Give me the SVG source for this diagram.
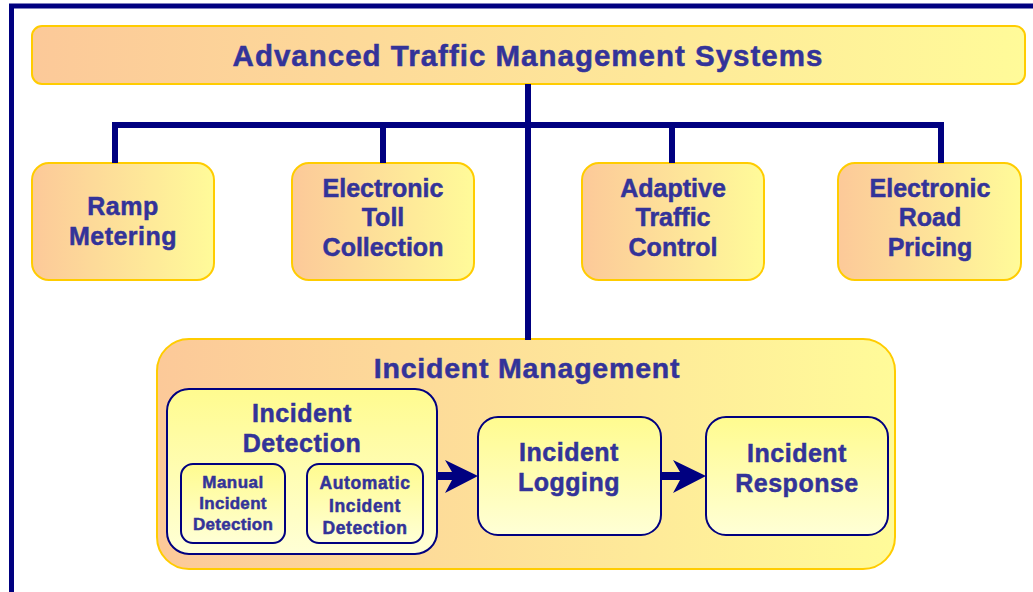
<svg xmlns="http://www.w3.org/2000/svg" width="1033" height="592" viewBox="0 0 1033 592">
<defs>
<linearGradient id="gh" x1="0" y1="0" x2="1" y2="0">
<stop offset="0" stop-color="#FCC999"/>
<stop offset="1" stop-color="#FFFB99"/>
</linearGradient>
<linearGradient id="gv" x1="0" y1="0" x2="0" y2="1">
<stop offset="0" stop-color="#FFFB8F"/>
<stop offset="1" stop-color="#FFFFD6"/>
</linearGradient>
<style>
.t{font-family:"Liberation Sans",Arial,sans-serif;font-weight:bold;fill:#333399;stroke:#333399;stroke-width:0.5;text-anchor:middle}
.o{fill:url(#gh);stroke:#FFCC00;stroke-width:2}
.i{fill:url(#gv);stroke:#000080;stroke-width:2}
.ln{fill:none;stroke:#000080;stroke-width:6}
.ar{fill:#000080}
</style>
</defs>
<rect x="0" y="0" width="1033" height="592" fill="#fff"/>
<rect x="11.5" y="6" width="1040" height="600" fill="none" stroke="#000080" stroke-width="5"/>
<g id="title">
<rect class="o" x="32" y="26" width="993" height="58" rx="10"/>
<text class="t" x="528" y="66" font-size="29.5" letter-spacing="1">Advanced Traffic Management Systems</text>
</g>
<g id="ramp">
<rect class="o" x="32" y="163" width="182" height="117" rx="17"/>
<text class="t" x="123" y="215" font-size="25" letter-spacing="0.5">Ramp</text>
<text class="t" x="123" y="245" font-size="25" letter-spacing="0.5">Metering</text>
</g>
<g id="toll">
<rect class="o" x="292" y="163" width="182" height="117" rx="17"/>
<text class="t" x="383" y="197" font-size="25">Electronic</text>
<text class="t" x="383" y="226" font-size="25">Toll</text>
<text class="t" x="383" y="256" font-size="25">Collection</text>
</g>
<g id="adaptive">
<rect class="o" x="582" y="163" width="182" height="117" rx="17"/>
<text class="t" x="673" y="197" font-size="25">Adaptive</text>
<text class="t" x="673" y="226" font-size="25">Traffic</text>
<text class="t" x="673" y="256" font-size="25">Control</text>
</g>
<g id="pricing">
<rect class="o" x="838" y="163" width="183" height="117" rx="17"/>
<text class="t" x="930" y="197" font-size="25">Electronic</text>
<text class="t" x="930" y="226" font-size="25">Road</text>
<text class="t" x="930" y="256" font-size="25">Pricing</text>
</g>
<g id="incident-management">
<rect class="o" x="157" y="339" width="738" height="230" rx="32"/>
<text class="t" x="527" y="378" font-size="28.5" letter-spacing="0.8">Incident Management</text>
</g>
<g id="detection">
<rect class="i" x="167" y="389" width="270" height="165" rx="22"/>
<text class="t" x="302" y="422" font-size="25" letter-spacing="0.5">Incident</text>
<text class="t" x="302" y="452" font-size="25" letter-spacing="0.5">Detection</text>
</g>
<g id="manual">
<rect class="i" x="181" y="464" width="104" height="79" rx="12" stroke-width="1.6"/>
<text class="t" x="233" y="488" font-size="17" letter-spacing="0.5">Manual</text>
<text class="t" x="233" y="509" font-size="17" letter-spacing="0.3">Incident</text>
<text class="t" x="233" y="530" font-size="17" letter-spacing="0.3">Detection</text>
</g>
<g id="automatic">
<rect class="i" x="307" y="464" width="116" height="79" rx="12" stroke-width="3.5"/>
<text class="t" x="365" y="489" font-size="17.5" letter-spacing="0.6">Automatic</text>
<text class="t" x="365" y="512" font-size="17.5" letter-spacing="0.6">Incident</text>
<text class="t" x="365" y="534" font-size="17.5" letter-spacing="0.6">Detection</text>
</g>
<g id="logging">
<rect class="i" x="478" y="417" width="183" height="118" rx="20"/>
<text class="t" x="569" y="461" font-size="25" letter-spacing="0.5">Incident</text>
<text class="t" x="569" y="491" font-size="25" letter-spacing="0.5">Logging</text>
</g>
<g id="response">
<rect class="i" x="706" y="417" width="182" height="118" rx="20"/>
<text class="t" x="797" y="462" font-size="25" letter-spacing="0.5">Incident</text>
<text class="t" x="797" y="492" font-size="25" letter-spacing="0.5">Response</text>
</g>
<g id="connectors">
<path class="ln" d="M528 84V340M115 163V125H941V163M383 125V163M672 125V163"/>
<path class="ar" d="M438 472H452L445 460L478 476L445 493L452 480H438Z"/>
<path class="ar" d="M662 472H680L673 460L706 476L673 493L680 480H662Z"/>
</g>
</svg>
